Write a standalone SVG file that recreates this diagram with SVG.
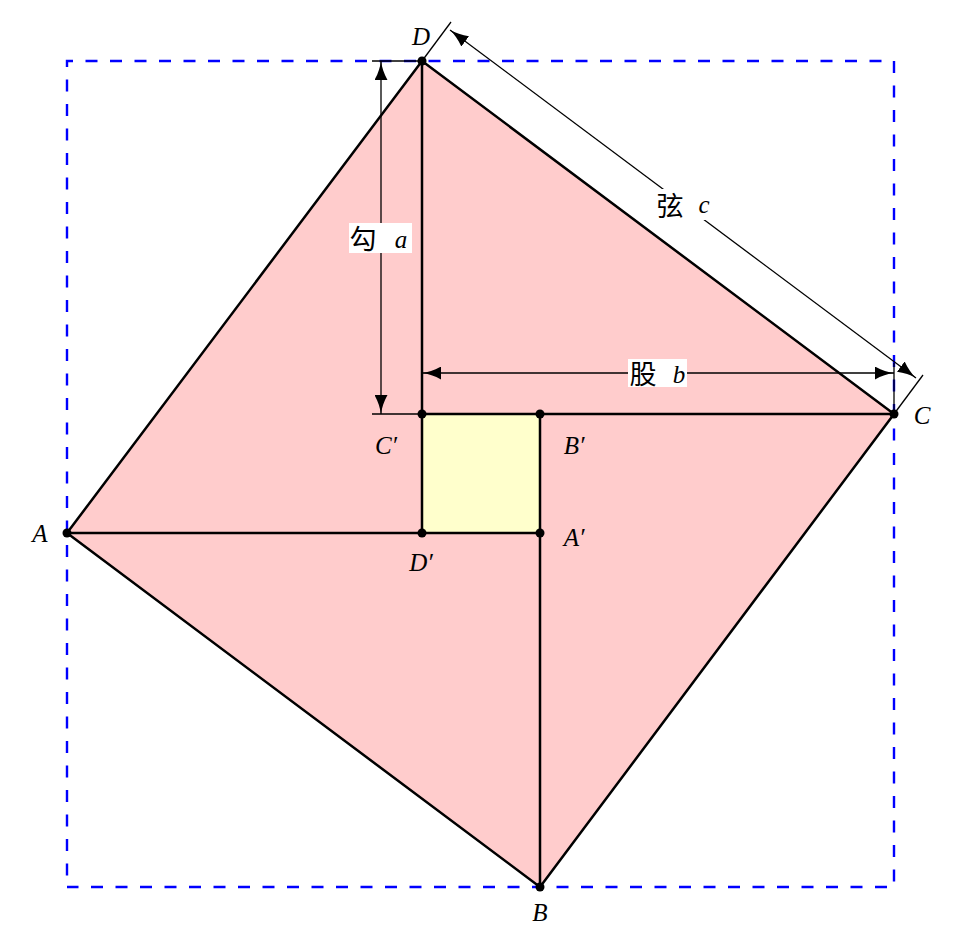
<svg xmlns="http://www.w3.org/2000/svg" width="963" height="949" viewBox="0 0 963 949">
<style>
.thick{stroke:#000;stroke-width:2.5;fill:none;stroke-linecap:round;stroke-linejoin:round}
.thin{stroke:#000;stroke-width:1.3;fill:none}
.dim{stroke:#000;stroke-width:1.3;fill:none;marker-start:url(#arr);marker-end:url(#arr)}
.dot{fill:#000}
.lbl{font-family:"Liberation Serif","DejaVu Serif",serif;font-style:italic;font-size:25px;fill:#000;text-anchor:middle}
.cjk{font-family:"Liberation Serif","Noto Sans CJK SC",serif;font-size:27px;fill:#000;text-anchor:middle}
.bg{fill:#fff}
</style>
<defs>
<marker id="arr" viewBox="0 0 19 13" refX="19" refY="6.5" markerWidth="19" markerHeight="13" markerUnits="userSpaceOnUse" orient="auto-start-reverse">
<path d="M19,6.5 C13,7.3 6,9.5 0,13 L0,0 C6,3.5 13,5.7 19,6.5 Z" fill="#000"/>
</marker>
</defs>
<rect width="963" height="949" fill="#fff"/>
<g id="faces">
<polygon points="67,533 422,61 894,414 540,887" fill="#ffcccc"/>
<rect x="422" y="414" width="118" height="119" fill="#ffffcc"/>
</g>
<g id="frame">
<path d="M67,887 V61 H894 V887 Z" fill="none" stroke="#0000ff" stroke-width="2.4" stroke-dasharray="12 12.5" stroke-dashoffset="13"/>
</g>
<g id="connectors">
<polygon class="thick" points="67,533 422,61 894,414 540,887"/>
<line class="thick" x1="422" y1="61" x2="422" y2="414"/>
<line class="thick" x1="894" y1="414" x2="540" y2="414"/>
<line class="thick" x1="540" y1="887" x2="540" y2="533"/>
<line class="thick" x1="67" y1="533" x2="422" y2="533"/>
<rect class="thick" x="422" y="414" width="118" height="119"/>
</g>
<g id="dimensions">
<line class="thin" x1="372" y1="61" x2="422" y2="61"/>
<line class="thin" x1="372" y1="414" x2="422" y2="414"/>
<line class="dim" x1="381" y1="61" x2="381" y2="414"/>
<rect class="bg" x="349" y="223" width="63" height="30"/>
<text class="cjk" x="363" y="249">勾</text>
<text class="lbl" x="401" y="248">a</text>
<line class="thin" x1="894" y1="363" x2="894" y2="414"/>
<line class="dim" x1="422" y1="373" x2="894" y2="373"/>
<rect class="bg" x="628" y="359" width="59" height="28"/>
<text class="cjk" x="643" y="384">股</text>
<text class="lbl" x="679" y="383">b</text>
<line class="thin" x1="422" y1="61" x2="451" y2="22"/>
<line class="thin" x1="894" y1="414" x2="923" y2="375"/>
<line class="dim" x1="450" y1="30" x2="916" y2="378"/>
<rect class="bg" x="651" y="189" width="65" height="31"/>
<text class="cjk" x="670" y="216">弦</text>
<text class="lbl" x="704" y="213">c</text>
</g>
<g id="node-A"><circle class="dot" cx="67" cy="533" r="4.5"/><text class="lbl" x="40" y="542">A</text></g>
<g id="node-B"><circle class="dot" cx="540" cy="887" r="4.5"/><text class="lbl" x="540" y="921">B</text></g>
<g id="node-C"><circle class="dot" cx="894" cy="414" r="4.5"/><text class="lbl" x="922" y="424">C</text></g>
<g id="node-D"><circle class="dot" cx="422" cy="61" r="4.5"/><text class="lbl" x="421" y="45">D</text></g>
<g id="node-Ap"><circle class="dot" cx="540" cy="533" r="4.5"/><text class="lbl" x="574" y="546">A′</text></g>
<g id="node-Bp"><circle class="dot" cx="540" cy="414" r="4.5"/><text class="lbl" x="574" y="454">B′</text></g>
<g id="node-Cp"><circle class="dot" cx="422" cy="414" r="4.5"/><text class="lbl" x="386" y="454">C′</text></g>
<g id="node-Dp"><circle class="dot" cx="422" cy="533" r="4.5"/><text class="lbl" x="421" y="571">D′</text></g>
</svg>
